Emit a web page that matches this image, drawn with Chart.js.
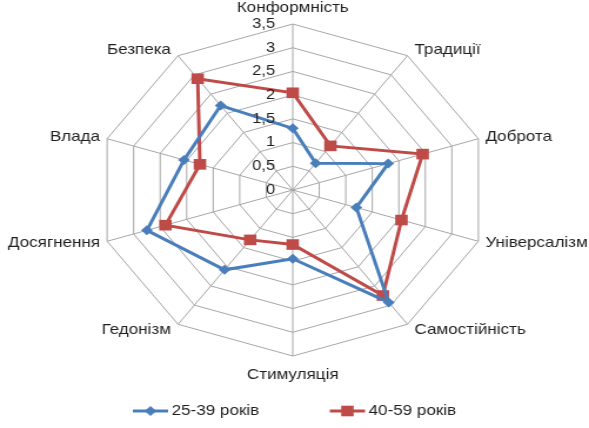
<!DOCTYPE html>
<html lang="uk">

<head>
  <meta charset="UTF-8">
  <script src="https://cdn.jsdelivr.net/npm/chart.js"></script>
  <style>
    body { margin: 0; background: #fff; }
    #valuesRadar { display: block; }
  </style>
</head>

<body>
  <!-- the original picture is stretched sideways, so the canvas is too -->
  <canvas id="valuesRadar" width="501" height="428" style="width: 589px; height: 428px;"></canvas>

  <script>
    const categories = ['Конформність', 'Традиції', 'Доброта', 'Універсалізм', 'Самостійність',
      'Стимуляція', 'Гедонізм', 'Досягнення', 'Влада', 'Безпека'];
    const age25to39 = [1.3, 0.7, 1.8, 1.2, 2.93, 1.45, 2.08, 2.75, 2.05, 2.2];
    const age40to59 = [2.05, 1.15, 2.45, 2.05, 2.75, 1.15, 1.3, 2.4, 1.75, 2.9];
    const tickValues = [0, 0.5, 1, 1.5, 2, 2.5, 3, 3.5];

    const fontFamily = '"Liberation Sans", Arial, sans-serif';
    const textColor = '#1f1f1f';

    // tick numbers left of the vertical axis and category names next to
    // the outer corners, placed the way Excel does it
    const excelLabels = {
      id: 'excelLabels',
      afterDraw(chart) {
        const scale = chart.scales.r;
        const ctx = chart.ctx;
        ctx.save();
        ctx.fillStyle = textColor;
        ctx.textBaseline = 'middle';

        ctx.font = '14px ' + fontFamily;
        ctx.textAlign = 'right';
        tickValues.forEach(v => {
          const y = scale.yCenter - scale.getDistanceFromCenterForValue(v);
          ctx.fillText(String(v).replace('.', ','), scale.xCenter - 15, y);
        });

        ctx.font = '14.5px ' + fontFamily;
        categories.forEach((name, i) => {
          const p = scale.getPointPositionForValue(i, scale.max);
          const a = i * 2 * Math.PI / categories.length;
          const sin = Math.sin(a);
          const cos = Math.cos(a);
          if (Math.abs(sin) < 0.01) {
            ctx.textAlign = 'center';
            ctx.fillText(name, p.x, p.y + (cos > 0 ? -16 : 19));
          } else {
            ctx.textAlign = sin > 0 ? 'left' : 'right';
            ctx.fillText(name, p.x + (sin > 0 ? 6 : -6), p.y - cos * 7);
          }
        });
        ctx.restore();
      }
    };

    // legend with a short line through the marker
    const lineLegend = {
      id: 'lineLegend',
      afterDraw(chart) {
        const ctx = chart.ctx;
        const y = 411;
        const lineW = 30;
        const gap = 60;
        ctx.save();
        ctx.font = '14.5px ' + fontFamily;
        ctx.textBaseline = 'middle';
        const sets = chart.data.datasets;
        const widths = sets.map(ds => lineW + 3 + ctx.measureText(ds.label).width);
        let x = (chart.width - (widths.reduce((a, b) => a + b, 0) + gap * (sets.length - 1))) / 2;
        sets.forEach((ds, i) => {
          ctx.strokeStyle = ds.borderColor;
          ctx.lineWidth = 3;
          ctx.beginPath();
          ctx.moveTo(x, y);
          ctx.lineTo(x + lineW, y);
          ctx.stroke();
          ctx.fillStyle = ds.pointBackgroundColor;
          Chart.helpers.drawPoint(ctx, {
            pointStyle: ds.pointStyle, radius: ds.pointRadius, rotation: 0, borderWidth: 0
          }, x + lineW / 2, y);
          ctx.fillStyle = textColor;
          ctx.fillText(ds.label, x + lineW + 3, y);
          x += widths[i] + gap;
        });
        ctx.restore();
      }
    };

    new Chart(document.getElementById('valuesRadar'), {
      type: 'radar',
      data: {
        labels: categories,
        datasets: [{
          label: '25-39 років',
          data: age25to39,
          borderColor: '#4a7ebb',
          backgroundColor: 'transparent',
          borderWidth: 3,
          pointStyle: 'rectRot',
          pointRadius: 5,
          pointBackgroundColor: '#4a7ebb',
          pointBorderWidth: 0,
          fill: false
        }, {
          label: '40-59 років',
          data: age40to59,
          borderColor: '#be4b48',
          backgroundColor: 'transparent',
          borderWidth: 3,
          pointStyle: 'rect',
          pointRadius: 7.5,
          pointBackgroundColor: '#be4b48',
          pointBorderWidth: 0,
          fill: false
        }]
      },
      options: {
        responsive: false,
        animation: false,
        layout: { padding: { top: 24, bottom: 72, left: 0, right: 3 } },
        plugins: {
          legend: { display: false },
          tooltip: { enabled: false }
        },
        scales: {
          r: {
            min: 0,
            max: 3.5,
            ticks: { stepSize: 0.5, display: false },
            grid: { color: '#a6a6a6', lineWidth: 1 },
            angleLines: { color: '#a6a6a6', lineWidth: 1 },
            pointLabels: { display: false }
          }
        }
      },
      plugins: [excelLabels, lineLegend]
    });
  </script>
</body>

</html>
